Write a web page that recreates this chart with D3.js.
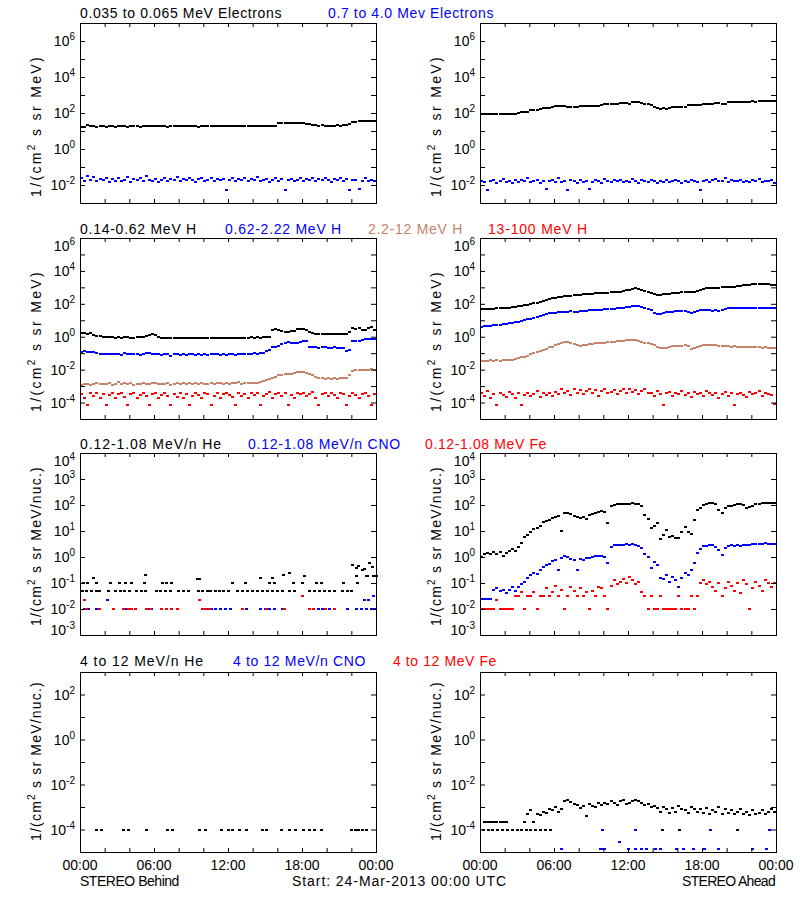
<!DOCTYPE html>
<html><head><meta charset="utf-8">
<script src="https://cdn.jsdelivr.net/npm/d3@7"></script>
<style>body{margin:0;background:#fff}text{font-family:"Liberation Sans",Arial,sans-serif}</style>
</head><body><svg id="c" width="800" height="900"></svg>
<script>
// ---------------- DATA (log10 of flux, 15-minute slots from 00:00) ----------------
const xTickHours = [0,2,4,6,8,10,12,14,16,18,20,22,24];
const xLabelHours = [0,6,12,18,24];
const xLabels = ["00:00","06:00","12:00","18:00","00:00"];
const yLabelExpRow1 = [-2,0,2,4,6];
const yLabelExpRow2 = [-4,-2,0,2,4,6];
const yLabelExpRow3 = [-3,-2,-1,0,1,2,3,4];
const yLabelExpRow4 = [-4,-2,0,2];

// Electrons, STEREO Behind
const eLoB = [1.22,1.25,1.32,1.28,1.27,1.24,1.26,1.28,1.25,1.27,1.26,1.24,1.27,1.29,1.26,1.25,1.27,1.28,1.26,1.25,1.28,1.27,1.3,1.28,1.26,1.27,1.29,1.27,1.25,1.28,1.27,1.26,1.28,1.3,1.27,1.26,1.28,1.27,1.25,1.28,1.27,1.29,1.28,1.26,1.27,1.3,1.29,1.27,1.28,1.3,1.28,1.27,1.29,1.28,1.27,1.3,1.28,1.29,1.27,1.28,1.3,1.29,1.28,1.3,1.42,1.45,1.44,1.46,1.43,1.45,1.44,1.42,1.43,1.41,1.38,1.36,1.33,1.3,1.31,1.29,1.3,1.28,1.3,1.32,1.29,1.31,1.33,1.4,1.5,1.52,1.55,1.53,1.56,1.58,1.56,1.58];
const eHiB = [-1.6,-1.75,-1.5,-1.7,-1.55,-1.8,-1.65,-1.72,-1.6,-1.85,-1.68,-1.75,-1.62,-1.78,-1.7,-1.55,-1.82,-1.66,-1.73,-1.6,-1.8,-1.5,-1.7,-1.76,-1.64,-1.85,-1.7,-1.6,-1.78,-1.68,-1.72,-1.58,-1.8,-1.66,-1.74,-1.62,-1.7,-1.84,-1.66,-1.6,-1.76,-1.7,-1.62,-1.8,-1.68,-1.74,-1.65,-2.3,-1.72,-1.6,-1.78,-1.68,-1.74,-1.62,-1.8,-1.66,-1.7,-1.58,-1.76,-1.7,-1.64,-1.82,-1.7,-1.6,-1.76,-1.68,-2.28,-1.72,-1.64,-1.8,-1.7,-1.62,-1.78,-1.66,-1.72,-1.6,-1.8,-1.68,-1.74,-1.62,-1.7,-1.84,-1.66,-1.72,-1.6,-1.78,-1.68,-2.26,-1.74,-1.7,-2.2,-1.75,-1.62,-1.8,-1.7,-1.76];
// Electrons, STEREO Ahead
const eLoA = [1.93,1.94,1.94,1.93,1.95,1.94,1.93,1.94,1.95,1.94,1.95,1.96,2.02,2.05,2.06,2.08,2.15,2.17,2.18,2.24,2.26,2.27,2.26,2.35,2.39,2.4,2.38,2.39,2.36,2.32,2.31,2.33,2.37,2.39,2.38,2.4,2.39,2.41,2.4,2.42,2.48,2.5,2.51,2.5,2.52,2.57,2.58,2.56,2.52,2.6,2.62,2.6,2.55,2.5,2.49,2.42,2.35,2.26,2.25,2.26,2.25,2.27,2.32,2.33,2.34,2.33,2.36,2.42,2.43,2.44,2.43,2.45,2.5,2.51,2.5,2.52,2.58,2.57,2.5,2.51,2.6,2.61,2.6,2.62,2.61,2.63,2.62,2.63,2.64,2.63,2.64,2.65,2.64,2.65,2.66,2.65];
const eHiA = [-1.75,-1.85,-2.25,-1.8,-1.7,-1.88,-1.78,-1.65,-1.82,-1.76,-1.9,-1.72,-1.84,-1.7,-1.8,-1.6,-1.86,-1.78,-1.74,-1.9,-1.8,-2.2,-1.76,-1.7,-1.85,-1.62,-1.82,-1.78,-2.28,-1.74,-1.8,-1.88,-1.7,-1.84,-1.76,-2.22,-1.82,-1.72,-1.8,-1.9,-1.66,-1.78,-1.84,-1.74,-1.8,-1.7,-1.86,-1.76,-1.82,-1.68,-1.8,-1.9,-1.74,-1.8,-1.84,-1.72,-1.78,-1.9,-1.76,-1.82,-1.7,-1.86,-1.78,-1.74,-1.8,-1.88,-1.76,-1.82,-1.72,-1.8,-1.85,-2.3,-1.78,-1.74,-1.82,-1.7,-1.66,-1.8,-1.76,-1.62,-1.84,-1.72,-1.78,-1.8,-1.7,-1.86,-1.76,-1.82,-1.74,-1.8,-1.68,-1.84,-1.76,-1.8,-1.72,-1.9];

// Protons, STEREO Behind
const h1B = [0.2,0.22,0.18,0.2,0.12,0.05,0.02,0.0,0.0,-0.03,0.0,-0.05,-0.02,-0.06,-0.04,0.0,-0.05,-0.07,-0.04,-0.02,0.0,0.05,0.12,0.15,0.1,-0.03,-0.05,-0.07,-0.06,-0.08,-0.05,-0.07,-0.06,-0.08,-0.05,-0.07,-0.09,-0.06,-0.08,-0.05,-0.07,-0.06,-0.08,-0.07,-0.06,-0.08,-0.05,-0.07,-0.08,-0.06,-0.07,-0.05,-0.06,-0.08,-0.05,-0.04,-0.06,-0.03,-0.05,-0.02,0.0,-0.02,0.41,0.45,0.38,0.33,0.31,0.3,0.32,0.34,0.44,0.47,0.45,0.42,0.27,0.2,0.15,0.16,0.14,0.15,0.17,0.14,0.15,0.16,0.15,0.14,0.16,0.3,0.52,0.5,0.51,0.42,0.4,0.55,0.62,0.42];
const h2B = [-0.9,-0.88,-0.92,-0.9,-0.95,-1.0,-1.05,-1.02,-1.05,-1.08,-1.02,-1.06,-1.04,-1.1,-1.0,-1.05,-1.03,-1.08,-1.05,-1.1,-1.04,-1.0,-0.98,-1.02,-1.06,-1.05,-1.1,-1.08,-1.04,-1.15,-1.08,-1.06,-1.12,-1.06,-1.1,-1.08,-1.05,-1.1,-1.07,-1.09,-1.06,-1.1,-1.08,-1.05,-1.08,-1.1,-1.06,-1.12,-1.08,-1.05,-1.1,-1.07,-1.04,-1.08,-1.02,-1.05,-1.0,-1.02,-0.98,-1.0,-0.85,-0.82,-0.65,-0.6,-0.58,-0.45,-0.37,-0.35,-0.36,-0.4,-0.38,-0.34,-0.27,-0.25,-0.6,-0.62,-0.64,-0.66,-0.65,-0.64,-0.66,-0.68,-0.65,-0.67,-0.66,-0.7,-0.86,-0.82,-0.28,-0.25,-0.26,-0.2,-0.15,-0.13,-0.12,-0.14];
const h3B = [-2.95,-2.9,-2.85,-2.92,-2.88,-2.82,-2.9,-2.85,-2.88,-2.8,-2.92,-2.86,-2.78,-2.9,-2.84,-2.88,-2.8,-2.92,-2.85,-2.88,-2.82,-2.9,-2.86,-2.8,-2.84,-2.9,-2.85,-2.88,-2.82,-2.92,-2.86,-2.8,-2.88,-2.84,-2.9,-2.82,-2.86,-2.8,-2.88,-2.84,-2.9,-2.85,-2.82,-2.88,-2.84,-2.8,-2.86,-2.82,-2.88,-2.8,-2.84,-2.78,-2.86,-2.82,-2.8,-2.84,-2.82,-2.8,-2.76,-2.72,-2.62,-2.55,-2.5,-2.45,-2.35,-2.3,-2.28,-2.27,-2.25,-2.2,-2.15,-2.12,-2.13,-2.2,-2.28,-2.35,-2.45,-2.5,-2.52,-2.54,-2.53,-2.55,-2.52,-2.54,-2.5,-2.53,-2.48,-2.35,-2.1,-2.05,-2.02,-2.0,-2.03,-2.0,-1.98,-2.0];
const h4B = [-3.5,-3.7,-4.15,-3.45,-3.6,-3.4,-3.7,-3.5,-4.15,-3.55,-3.45,-3.7,-3.5,-3.4,-3.65,-4.15,-3.5,-3.45,-3.7,-3.55,-3.4,-3.6,-4.15,-3.5,-3.45,-3.7,-3.55,-3.4,-3.6,-4.15,-3.5,-3.65,-3.45,-3.7,-3.5,-4.15,-3.6,-3.4,-3.55,-3.7,-3.45,-3.5,-4.15,-3.6,-3.45,-3.7,-3.5,-3.4,-3.55,-3.65,-4.15,-3.45,-3.6,-3.5,-3.7,-3.4,-3.55,-3.45,-4.15,-3.6,-3.5,-3.35,-3.7,-3.5,-3.45,-3.6,-3.4,-4.15,-3.55,-3.7,-3.45,-3.5,-3.4,-3.6,-3.5,-3.35,-3.7,-4.15,-3.5,-3.45,-3.6,-3.4,-3.55,-3.7,-3.45,-3.5,-4.15,-3.6,-3.4,-3.55,-3.7,-3.5,-3.45,-3.6,-4.15,-3.5];
// Protons, STEREO Ahead
const h1A = [1.68,1.69,1.7,1.7,1.71,1.72,1.73,1.74,1.75,1.77,1.78,1.8,1.84,1.88,1.92,1.95,1.98,2.03,2.08,2.12,2.18,2.24,2.29,2.33,2.36,2.4,2.44,2.46,2.48,2.5,2.53,2.52,2.55,2.57,2.58,2.6,2.61,2.63,2.64,2.65,2.66,2.68,2.7,2.71,2.72,2.73,2.78,2.82,2.85,2.9,2.94,2.92,2.85,2.8,2.74,2.68,2.6,2.56,2.55,2.57,2.6,2.62,2.65,2.66,2.68,2.7,2.71,2.72,2.73,2.74,2.8,2.86,2.9,2.94,2.95,2.96,2.97,2.98,3.0,3.0,3.02,3.03,3.05,3.08,3.1,3.13,3.15,3.17,3.19,3.18,3.19,3.2,3.18,3.19,3.17,3.16];
const h2A = [0.62,0.64,0.66,0.68,0.7,0.72,0.74,0.76,0.78,0.81,0.84,0.88,0.92,0.97,1.0,1.05,1.08,1.12,1.2,1.26,1.32,1.38,1.42,1.44,1.46,1.5,1.52,1.5,1.52,1.54,1.53,1.52,1.55,1.57,1.58,1.6,1.62,1.63,1.64,1.65,1.66,1.68,1.7,1.71,1.72,1.73,1.76,1.8,1.83,1.86,1.88,1.85,1.8,1.74,1.67,1.6,1.45,1.38,1.4,1.45,1.5,1.52,1.53,1.54,1.55,1.56,1.55,1.5,1.45,1.5,1.55,1.6,1.62,1.63,1.6,1.58,1.6,1.57,1.65,1.7,1.72,1.73,1.72,1.74,1.73,1.72,1.74,1.73,1.74,1.72,1.73,1.74,1.73,1.72,1.73,1.72];
const h3A = [-1.46,-1.45,-1.47,-1.44,-1.46,-1.43,-1.45,-1.42,-1.44,-1.42,-1.4,-1.36,-1.3,-1.25,-1.21,-1.15,-1.05,-0.98,-0.92,-0.85,-0.8,-0.72,-0.65,-0.6,-0.52,-0.45,-0.38,-0.34,-0.32,-0.36,-0.42,-0.48,-0.54,-0.52,-0.48,-0.45,-0.42,-0.4,-0.41,-0.4,-0.38,-0.35,-0.32,-0.3,-0.28,-0.26,-0.24,-0.22,-0.2,-0.21,-0.2,-0.24,-0.3,-0.36,-0.4,-0.45,-0.52,-0.6,-0.67,-0.68,-0.66,-0.6,-0.58,-0.56,-0.55,-0.54,-0.52,-0.55,-0.74,-0.66,-0.6,-0.55,-0.52,-0.5,-0.48,-0.5,-0.52,-0.55,-0.57,-0.58,-0.58,-0.6,-0.59,-0.61,-0.6,-0.62,-0.63,-0.64,-0.63,-0.65,-0.64,-0.66,-0.65,-0.66,-0.67,-0.67];
const h4A = [-3.45,-3.6,-3.3,-3.7,-3.5,-4.15,-3.4,-3.55,-3.65,-3.35,-3.5,-3.7,-3.45,-4.15,-3.55,-3.4,-3.6,-3.5,-3.3,-3.65,-3.45,-3.55,-3.4,-3.6,-3.35,-3.5,-3.2,-3.45,-3.3,-3.55,-3.2,-3.4,-3.25,-3.5,-3.3,-3.15,-3.45,-3.25,-3.6,-3.3,-3.2,-3.45,-3.35,-3.25,-3.5,-3.3,-3.2,-3.4,-3.15,-3.35,-3.25,-3.5,-3.3,-3.2,-3.45,-3.4,-3.6,-3.3,-3.5,-4.15,-3.45,-3.35,-3.6,-3.4,-3.5,-3.3,-3.55,-3.45,-3.65,-3.35,-3.5,-3.4,-3.6,-3.3,-3.45,-3.55,-3.4,-3.7,-3.5,-3.35,-3.6,-3.45,-4.15,-3.5,-3.4,-3.55,-3.65,-3.35,-3.5,-3.45,-3.3,-3.6,-3.4,-3.5,-3.55,-4.1];

// Heavy ions 0.12-1.08 MeV/n, STEREO Behind: sparse [hour, log10 flux]
const heLowB = [[0.2,-1.3],[0.5,-1.3],[0.9,-1.3],[1.3,-1.3],[1.6,-1.3],[2.3,-1.3],[2.9,-1.3],[3.3,-1.3],[3.6,-1.3],[4.0,-1.3],[4.6,-1.3],[5.0,-1.3],[5.3,-1.3],[6.2,-1.3],[6.5,-1.3],[6.9,-1.3],[7.3,-1.3],[8.0,-1.3],[8.4,-1.3],[8.8,-1.3],[9.6,-1.3],[9.9,-1.3],[10.3,-1.3],[10.6,-1.3],[11.0,-1.3],[11.3,-1.3],[11.6,-1.3],[12.0,-1.3],[12.8,-1.3],[13.2,-1.3],[13.6,-1.3],[14.0,-1.3],[14.4,-1.3],[14.8,-1.3],[15.2,-1.3],[15.6,-1.3],[16.0,-1.3],[16.4,-1.3],[17.0,-1.3],[17.4,-1.3],[18.6,-1.3],[19.0,-1.3],[19.4,-1.3],[19.8,-1.3],[20.2,-1.3],[20.6,-1.3],[21.3,-1.3],[21.7,-1.3],[22.0,-1.3],
 [0.3,-1.0],[0.6,-1.0],[1.3,-1.0],[2.5,-1.0],[3.2,-1.0],[3.7,-1.0],[4.2,-1.0],[5.2,-1.0],[6.7,-1.0],[7.0,-1.0],[7.4,-1.0],[12.4,-1.0],[13.4,-1.0],[15.4,-1.0],[15.8,-1.0],[17.3,-1.0],[18.0,-1.0],[19.2,-1.0],[19.6,-1.0],[21.4,-1.0],[22.5,-1.0],
 [1.1,-0.8],[14.6,-0.8],[15.6,-0.8],[5.3,-0.7],[9.5,-0.85],[9.7,-0.85],[16.5,-0.7],[17.0,-0.63],[18.2,-0.72],
 [22.1,-0.31],[22.4,-0.44],[22.4,-0.72],[22.6,-0.35],[22.9,-0.5],[23.1,-0.48],[23.2,-0.72],[23.5,-0.24],[23.7,-0.37],[23.8,-0.72],[24.0,-0.72],[23.3,-0.72]];
const cnoLowB = [[0.4,-2],[0.7,-2],[1.3,-2],[1.6,-2],[3.8,-2],[5.4,-2],[5.6,-2],[5.8,-2],[10.0,-2],[10.3,-2],[10.7,-2],[11.0,-2],[11.4,-2],[11.8,-2],[12.2,-2],[13.5,-2],[14.6,-2],[15.0,-2],[15.4,-2],[15.8,-2],[16.4,-2],[18.9,-2],[19.3,-2],[19.7,-2],[20.2,-2],[21.7,-2],[22.4,-2],[22.8,-2],[23.2,-2],[23.6,-2],[23.9,-2],[2.2,-1.65],[23.1,-1.65],[23.4,-1.65],[23.8,-1.5]];
const feLowB = [[0.5,-2],[1.6,-2],[2.7,-2],[3.5,-2],[3.9,-2],[4.2,-2],[4.5,-2],[5.4,-2],[5.7,-2],[6.6,-2],[7.0,-2],[7.4,-2],[7.9,-2],[9.9,-2],[10.2,-2],[10.5,-2],[13.2,-2],[15.1,-2],[16.6,-2],[18.6,-2],[18.9,-2],[19.9,-2],[20.6,-2],[0.4,-1.65],[9.7,-1.65],[18.0,-1.5]];
// Heavy ions 0.12-1.08 MeV/n, STEREO Ahead (15-minute slots)
const heLowA = [0.0,0.12,0.15,0.1,0.18,0.12,0.2,0.05,0.15,0.22,0.3,0.25,0.4,0.55,0.78,0.85,0.95,1.06,1.1,1.2,1.36,1.38,1.42,1.49,1.52,1.58,1.0,1.68,1.7,1.65,1.58,1.52,1.5,1.55,1.45,1.6,1.65,1.7,1.74,1.77,1.72,1.3,1.96,2.0,2.02,2.04,2.05,2.04,2.05,2.06,2.04,2.03,1.95,1.6,1.45,1.12,1.2,1.3,0.69,0.85,1.04,0.78,0.8,0.73,0.72,0.95,1.15,0.97,0.9,1.42,1.81,1.9,2.0,2.05,2.09,2.06,2.02,1.81,1.69,1.9,1.96,1.98,2.0,2.02,2.03,2.01,1.9,1.92,1.98,2.02,2.05,2.08,2.09,2.08,2.09,2.07];
const cnoLowA = [-1.62,-1.62,-1.6,-1.62,-1.25,-1.2,-1.3,-1.25,-1.4,-1.25,-1.15,-1.3,-1.15,-1.05,-0.95,-0.8,-0.7,-0.62,-0.65,-0.5,-0.38,-0.3,-0.25,-0.17,-0.12,-0.5,-0.05,0.03,0.0,-0.08,-0.1,-0.5,-0.08,-0.1,-0.05,-0.02,0.0,0.02,0.03,0.02,0.0,-0.22,0.4,0.45,0.46,0.47,0.48,0.5,0.48,0.5,0.46,0.44,0.33,0.1,0.0,-0.43,-0.18,-0.3,-0.81,-0.85,-0.69,-0.95,-0.75,-0.9,-1.14,-0.8,-0.62,-0.69,-0.5,-0.24,0.15,0.3,0.42,0.44,0.46,0.45,0.4,0.27,0.08,0.35,0.44,0.45,0.43,0.46,0.44,0.47,0.46,0.48,0.5,0.49,0.51,0.5,0.52,0.5,0.49,0.5];
const feLowA = [-2.0,-2.0,-2.0,-2.0,-2.0,-1.65,-2.0,-2.0,-2.0,-2.0,-2.0,-1.5,-1.5,-1.35,-2.0,-1.5,-1.5,-1.35,-2.0,-1.5,-1.5,-1.2,-1.5,-1.35,-1.1,-1.5,-1.25,-2.0,-1.5,-1.15,-1.3,-1.5,-1.2,-1.5,-1.35,-2.0,-1.3,-1.5,-1.15,-1.2,-1.5,-2.0,-1.1,-0.9,-1.05,-0.95,-0.85,-1.0,-0.75,-0.9,-1.05,-0.95,-1.35,-1.5,-2.0,-1.5,-2.0,-2.0,-1.5,-2.0,-2.0,-2.0,-2.0,-2.0,-1.5,-2.0,-2.0,-2.0,-1.5,-2.0,-1.5,-1.0,-0.9,-1.05,-0.95,-1.15,-1.3,-1.0,-1.5,-1.2,-0.95,-1.1,-1.3,-1.0,-1.4,-0.9,-1.05,-2.0,-1.2,-0.95,-1.1,-1.3,-0.88,-1.0,-1.15,-1.0];

// Heavy ions 4-12 MeV/n
const heHighB = [[1.35,-4],[1.75,-4],[3.5,-4],[3.9,-4],[5.4,-4],[7.1,-4],[7.5,-4],[9.7,-4],[10.2,-4],[11.5,-4],[12.0,-4],[12.4,-4],[12.9,-4],[13.5,-4],[14.8,-4],[15.1,-4],[16.3,-4],[17.0,-4],[17.5,-4],[18.1,-4],[18.6,-4],[19.0,-4],[19.6,-4],[22.0,-4],[22.3,-4],[22.6,-4],[22.9,-4],[23.2,-4]];
const heHighA = [null,-3.65,-3.65,-3.65,-3.65,-3.65,-3.65,-3.65,-3.65,null,null,null,null,null,-3.65,-3.3,-3.15,-3.65,-3.3,-3.35,-3.2,-3.25,-3.1,-3.15,-3.0,-3.2,-3.1,-2.72,-2.7,-2.78,-2.85,-2.9,-3.05,-2.95,-3.4,-2.85,-2.95,-3.0,-2.8,-2.9,-2.8,-2.85,-2.75,-2.8,-2.9,-2.75,-2.7,-2.85,-2.8,-2.75,-2.7,-2.72,-2.8,-2.9,-2.85,-3.0,-2.95,-3.05,-3.2,-3.0,-3.1,-3.25,-3.05,-3.2,-2.95,-3.1,-3.15,-3.25,-3.0,-3.1,-3.2,-3.1,-3.25,-3.05,-3.3,-3.15,-3.2,-3.0,-3.3,-3.1,-3.25,-3.15,-3.3,-3.2,-3.1,-3.3,-3.2,-3.35,-3.15,-3.3,-3.25,-3.15,-3.3,-3.2,-3.1,-3.2];
const heHighFloorA = [[0.3,-4],[0.7,-4],[1.0,-4],[1.4,-4],[1.8,-4],[2.2,-4],[2.6,-4],[3.0,-4],[3.4,-4],[3.8,-4],[4.1,-4],[4.5,-4],[4.9,-4],[5.3,-4],[5.7,-4],[14.8,-4],[16.2,-4],[20.9,-4],[23.5,-4]];
const cnoHighA = [[9.9,-4],[12.6,-4],[18.7,-4],[23.5,-4],[11.3,-4.55],[6.6,-4.87],[9.8,-4.87],[10.0,-4.87],[10.1,-4.87],[12.0,-4.87],[12.6,-4.87],[13.1,-4.87],[13.5,-4.87],[14.2,-4.87],[14.6,-4.87],[15.9,-4.87],[16.5,-4.87],[17.3,-4.87],[18.2,-4.87],[19.3,-4.87],[22.1,-4.87],[23.2,-4.87]];

// ---------------- LAYOUT / STYLE ----------------
const BLACK="#000000", BLUE="#0000ff", BROWN="#c8826a", RED="#ff0000";
const cols=[{l:80,r:376},{l:480,r:776}];
const rows=[
 {t:23,b:203,lo:-3,hi:7,labs:yLabelExpRow1,ylab:"MeV)",yc:126,yw:142,tb:18},
 {t:238,b:419,lo:-5,hi:6,labs:yLabelExpRow2,ylab:"MeV)",yc:341,yw:142,tb:234},
 {t:453,b:635,lo:-3,hi:4,labs:yLabelExpRow3,ylab:"MeV/nuc.)",yc:546,yw:160,tb:449},
 {t:672,b:852,lo:-5,hi:3,labs:yLabelExpRow4,ylab:"MeV/nuc.)",yc:761,yw:160,tb:666}
];
const slotHour = i => i*0.25+0.125;
const panels=[
 {r:0,c:0,dense:[[eLoB,BLACK],[eHiB,BLUE]],sparse:[]},
 {r:0,c:1,dense:[[eLoA,BLACK],[eHiA,BLUE]],sparse:[]},
 {r:1,c:0,dense:[[h1B,BLACK],[h2B,BLUE],[h3B,BROWN],[h4B,RED]],sparse:[]},
 {r:1,c:1,dense:[[h1A,BLACK],[h2A,BLUE],[h3A,BROWN],[h4A,RED]],sparse:[]},
 {r:2,c:0,dense:[],sparse:[[heLowB,BLACK],[cnoLowB,BLUE],[feLowB,RED]]},
 {r:2,c:1,dense:[[heLowA,BLACK],[cnoLowA,BLUE],[feLowA,RED]],sparse:[]},
 {r:3,c:0,dense:[],sparse:[[heHighB,BLACK]]},
 {r:3,c:1,dense:[[heHighA,BLACK]],sparse:[[heHighFloorA,BLACK],[cnoHighA,BLUE]]}
];
const titles=[
 {y:18,items:[["0.035 to 0.065 MeV Electrons",80,202,BLACK],["0.7 to 4.0 Mev Electrons",328,166,BLUE]]},
 {y:234,items:[["0.14-0.62 MeV H",80,117,BLACK],["0.62-2.22 MeV H",225,117,BLUE],["2.2-12 MeV H",368,95,BROWN],["13-100 MeV H",488,100,RED]]},
 {y:449,items:[["0.12-1.08 MeV/n He",80,142,BLACK],["0.12-1.08 MeV/n CNO",248,153,BLUE],["0.12-1.08 MeV Fe",425,122,RED]]},
 {y:666,items:[["4 to 12 MeV/n He",80,124,BLACK],["4 to 12 MeV/n CNO",233,133,BLUE],["4 to 12 MeV Fe",393,104,RED]]},
 {y:886,items:[["STEREO Behind",80,99,BLACK],["Start: 24-Mar-2013 00:00 UTC",292,215,BLACK],["STEREO Ahead",682,93,BLACK]]}
];

const svg=d3.select("#c");
svg.append("rect").attr("width",800).attr("height",900).attr("fill","#fff");

function fit(sel,w){
  const n=sel.node(); const len=n.getComputedTextLength(); const k=n.textContent.length;
  sel.attr("letter-spacing",((w-len)/k).toFixed(2));
}

panels.forEach(p=>{
  const R=rows[p.r], C=cols[p.c];
  const x=d3.scaleLinear().domain([0,24]).range([C.l,C.r]);
  const y=d3.scaleLog().domain([Math.pow(10,R.lo),Math.pow(10,R.hi)]).range([R.b,R.t]);
  const g=svg.append("g");
  const decades=d3.range(R.lo,R.hi+1).map(e=>Math.pow(10,e));
  // data
  p.dense.forEach(([arr,col])=>{
    const pts=arr.map((v,i)=>[slotHour(i),v]).filter(d=>d[1]!==null);
    g.append("g").selectAll("rect").data(pts).join("rect")
     .attr("x",d=>Math.round(x(d[0])-1.5)).attr("y",d=>Math.round(y(Math.pow(10,d[1]))-1))
     .attr("width",3).attr("height",2).attr("fill",col);
  });
  p.sparse.forEach(([arr,col])=>{
    g.append("g").selectAll("rect").data(arr).join("rect")
     .attr("x",d=>Math.round(x(d[0])-1.5)).attr("y",d=>Math.round(y(Math.pow(10,d[1]))-1))
     .attr("width",3).attr("height",2).attr("fill",col);
  });
  // axes (inward ticks)
  const ax=[
    [d3.axisBottom(x).tickValues(xTickHours).tickSize(-4),`translate(0,${R.b})`],
    [d3.axisTop(x).tickValues(xTickHours).tickSize(-4),`translate(0,${R.t})`],
    [d3.axisLeft(y).tickValues(decades).tickSize(-5),`translate(${C.l},0)`],
    [d3.axisRight(y).tickValues(decades).tickSize(-5),`translate(${C.r},0)`]
  ];
  ax.forEach(([a,tr])=>{
    const ag=g.append("g").attr("transform",tr).call(a.tickFormat(""));
    ag.select(".domain").remove();
    ag.selectAll("line").attr("stroke","#000");
  });
  g.append("rect").attr("x",C.l+0.5).attr("y",R.t+0.5).attr("width",C.r-C.l).attr("height",R.b-R.t)
   .attr("fill","none").attr("stroke","#000");
  // y tick labels
  R.labs.forEach(e=>{
    const yy=Math.min(Math.max(y(Math.pow(10,e)),R.t+8),R.b-5);
    const t=g.append("text").attr("x",C.l-5).attr("y",yy+5).attr("text-anchor","end").attr("font-size",14).attr("fill","#000");
    t.append("tspan").text("10");
    t.append("tspan").attr("dy",-6).attr("font-size",10).text(e<0?"-"+(-e):String(e));
  });
  // y axis title
  const yt=g.append("text").attr("transform",`translate(${C.l-39},${R.yc}) rotate(-90)`).attr("text-anchor","middle").attr("font-size",14).attr("fill","#000");
  yt.append("tspan").text("1/(cm");
  yt.append("tspan").attr("dy",-6).attr("font-size",10).text("2");
  yt.append("tspan").attr("dy",6).text(" s sr "+R.ylab);
  fit(yt,R.yw);
  // x labels bottom row
  if(p.r===3){
    xLabelHours.forEach((h,i)=>{
      g.append("text").attr("x",x(h)).attr("y",870).attr("text-anchor","middle").attr("font-size",14).attr("fill","#000").text(xLabels[i]);
    });
  }
});

titles.forEach(row=>{
  row.items.forEach(([txt,x0,w,col])=>{
    const t=svg.append("text").attr("x",x0).attr("y",row.y).attr("font-size",14).attr("fill",col).text(txt);
    fit(t,w);
  });
});
</script></body></html>
